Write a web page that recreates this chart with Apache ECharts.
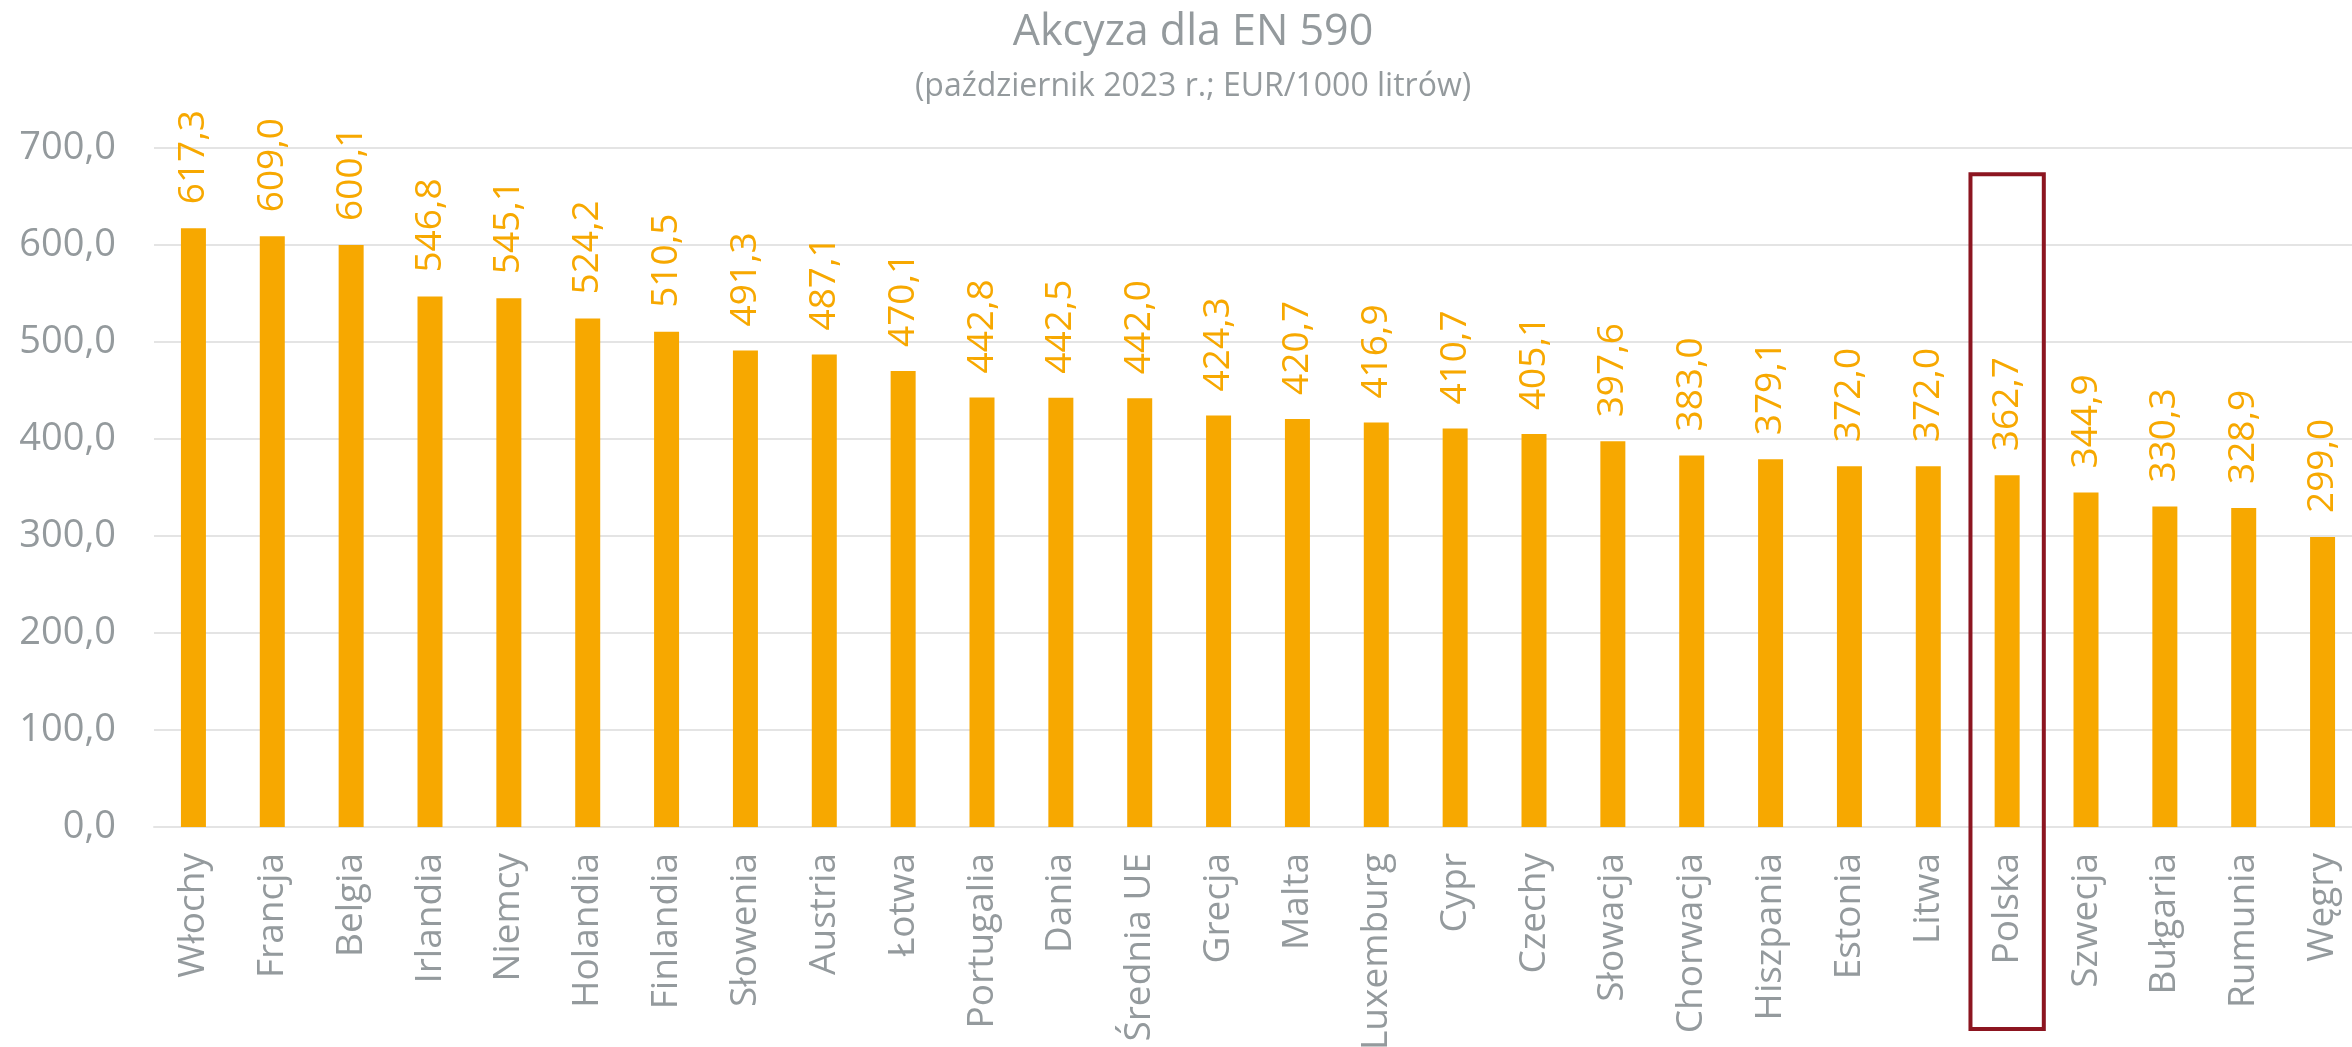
<!DOCTYPE html>
<html>
<head>
<meta charset="utf-8">
<title>Akcyza dla EN 590</title>
<script src="https://cdn.jsdelivr.net/npm/echarts@6/dist/echarts.min.js"></script>
<style>
  html, body { margin: 0; padding: 0; background: #ffffff; }
  #chart { width: 2352px; height: 1047px; }
</style>
</head>
<body>
<div id="chart"></div>
<script>
// Excise duty on EN 590 diesel, October 2023, EUR per 1000 litres
const countries = [
  'Włochy', 'Francja', 'Belgia', 'Irlandia', 'Niemcy', 'Holandia', 'Finlandia',
  'Słowenia', 'Austria', 'Łotwa', 'Portugalia', 'Dania', 'Średnia UE', 'Grecja',
  'Malta', 'Luxemburg', 'Cypr', 'Czechy', 'Słowacja', 'Chorwacja', 'Hiszpania',
  'Estonia', 'Litwa', 'Polska', 'Szwecja', 'Bułgaria', 'Rumunia', 'Węgry'
];
const exciseValues = [
  617.3, 609.0, 600.1, 546.8, 545.1, 524.2, 510.5,
  491.3, 487.1, 470.1, 442.8, 442.5, 442.0, 424.3,
  420.7, 416.9, 410.7, 405.1, 397.6, 383.0, 379.1,
  372.0, 372.0, 362.7, 344.9, 330.3, 328.9, 299.0
];
const yTicks = [0, 100, 200, 300, 400, 500, 600, 700];
const highlighted = 'Polska';

const FONT = '"Open Sans", "Noto Sans", sans-serif';
const GREY = '#949a9d';
const ORANGE = '#f7a800';
const fmt = v => v.toFixed(1).replace('.', ',');

const chart = echarts.init(document.getElementById('chart'), null, { renderer: 'canvas' });

chart.setOption({
  backgroundColor: '#ffffff',
  animation: false,
  title: [
    {
      text: 'Akcyza dla EN 590',
      left: 1193, top: 11, textAlign: 'center', padding: 0,
      textStyle: { fontFamily: FONT, fontSize: 43, fontWeight: 'normal', color: GREY }
    },
    {
      text: '(październik 2023 r.; EUR/1000 litrów)',
      left: 1193, top: 71, textAlign: 'center', padding: 0,
      textStyle: { fontFamily: FONT, fontSize: 32, fontWeight: 'normal', color: GREY }
    }
  ],
  grid: { left: 154, right: -10, top: 148, bottom: 220, containLabel: false, outerBoundsMode: 'none' },
  xAxis: {
    type: 'category',
    data: countries,
    axisLine: { show: true, lineStyle: { color: '#e4e4e4', width: 2 } },
    axisTick: { show: false },
    axisLabel: {
      interval: 0, rotate: 90, margin: 26,
      fontFamily: FONT, fontSize: 37, color: GREY
    }
  },
  yAxis: {
    type: 'value',
    min: yTicks[0], max: yTicks[yTicks.length - 1], interval: yTicks[1] - yTicks[0],
    axisLine: { show: false },
    axisTick: { show: false },
    splitLine: { lineStyle: { color: '#e4e4e4', width: 2 } },
    axisLabel: {
      margin: 38, fontFamily: FONT, fontSize: 38, color: GREY,
      formatter: v => fmt(v)
    }
  },
  series: [{
    type: 'bar',
    data: exciseValues,
    barWidth: 25,
    itemStyle: { color: ORANGE },
    label: {
      show: true, position: 'top', rotate: 90, distance: 24,
      align: 'left', verticalAlign: 'middle',
      fontFamily: FONT, fontSize: 37, color: ORANGE,
      formatter: p => fmt(p.value)
    }
  }]
});

// Frame around the highlighted country, sized from the category band
function drawFrame() {
  const i = countries.indexOf(highlighted);
  const cx = chart.convertToPixel({ xAxisIndex: 0 }, countries[i]);
  const band = chart.convertToPixel({ xAxisIndex: 0 }, countries[i + 1]) - cx;
  const yTop = chart.convertToPixel({ yAxisIndex: 0 }, 673);
  const yZero = chart.convertToPixel({ yAxisIndex: 0 }, 0);
  chart.setOption({
    graphic: [{
      type: 'rect', id: 'frame', z: 10, silent: true,
      shape: { x: cx - band * 0.465, y: yTop, width: band * 0.93, height: (yZero + 202) - yTop },
      style: { fill: 'none', stroke: '#8c1520', lineWidth: 4 }
    }]
  });
}
drawFrame();
</script>
</body>
</html>
